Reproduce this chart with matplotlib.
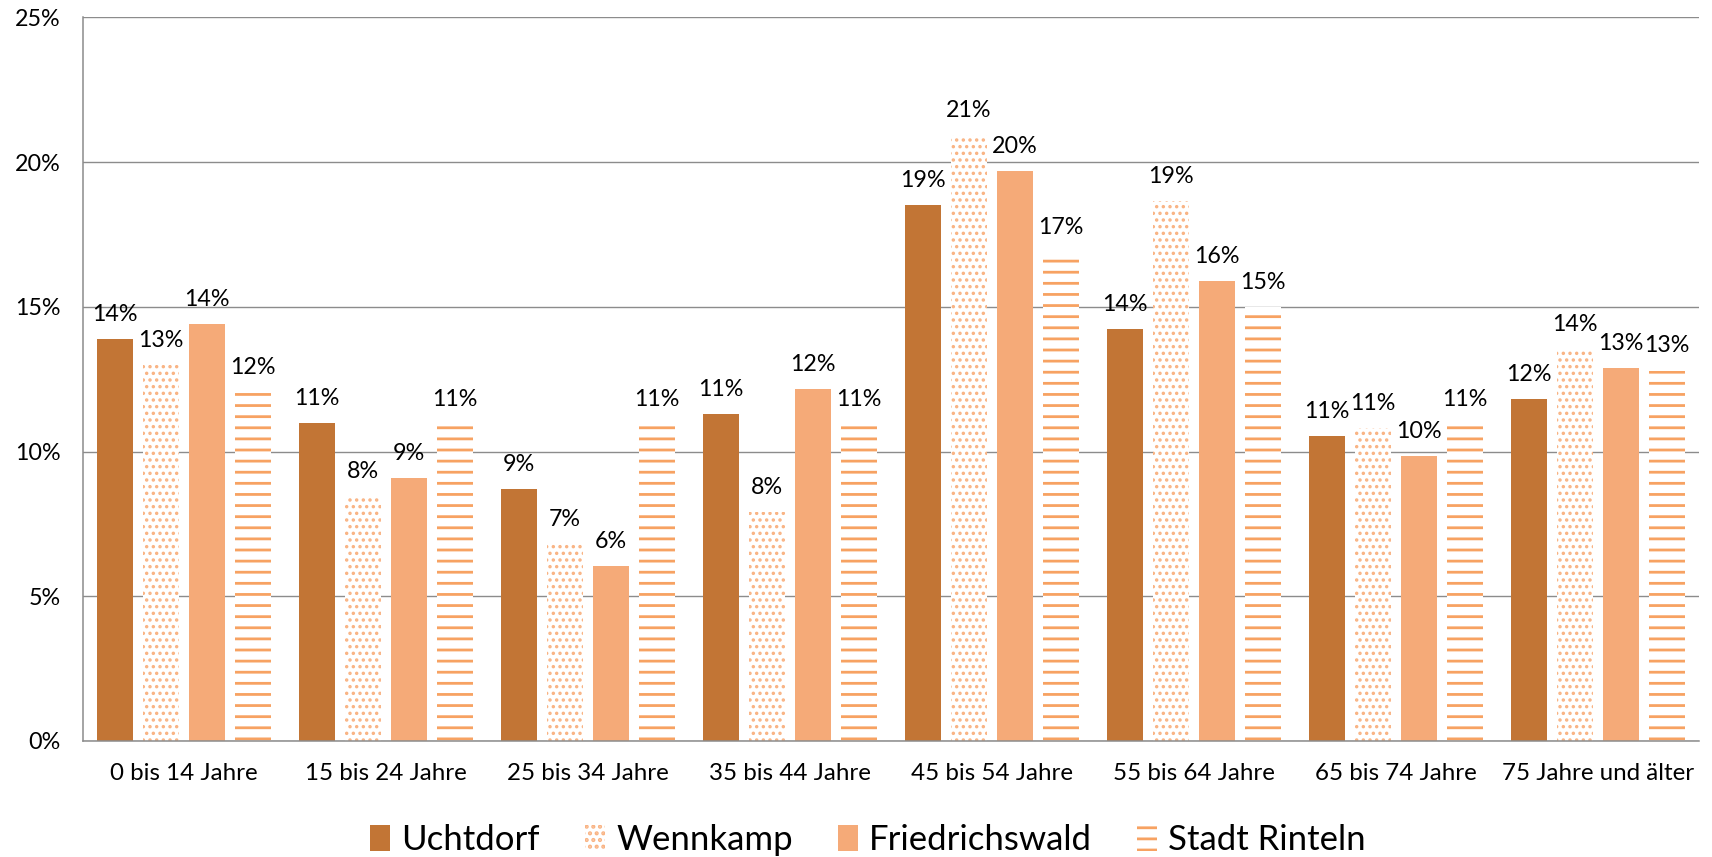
import matplotlib
matplotlib.use("Agg")
import matplotlib.pyplot as plt
import numpy as np
from matplotlib.ticker import FuncFormatter

# ===========================
# DATA (values in %)
# ===========================
categories = ["0 bis 14 Jahre", "15 bis 24 Jahre", "25 bis 34 Jahre", "35 bis 44 Jahre",
              "45 bis 54 Jahre", "55 bis 64 Jahre", "65 bis 74 Jahre", "75 Jahre und älter"]
series_names = ["Uchtdorf", "Wennkamp", "Friedrichswald", "Stadt Rinteln"]
uchtdorf       = [13.9, 11.0, 8.7, 11.3, 18.52, 14.25, 10.55, 11.8]
wennkamp       = [13.0, 8.48, 6.8, 7.9, 20.95, 18.65, 10.8, 13.55]
friedrichswald = [14.4, 9.1, 6.05, 12.15, 19.7, 15.9, 9.85, 12.9]
stadt_rinteln  = [12.05, 10.95, 10.95, 10.95, 16.9, 15.0, 10.95, 12.8]
yticks = [0, 5, 10, 15, 20, 25]

# ===========================
# STYLE
# ===========================
plt.rcParams['font.family'] = ['Lato', 'DejaVu Sans']
DARK = "#C27535"
LIGHT = "#F5AA78"
HATCH = "#F7A262"
GRID = "#8C8C8C"

series = [uchtdorf, wennkamp, friedrichswald, stadt_rinteln]
styles = [
    dict(color=DARK, hatch=None),
    dict(facecolor="white", edgecolor="#F9B383", hatch=".....", linewidth=0),
    dict(color=LIGHT, hatch=None),
    dict(facecolor="white", edgecolor=HATCH, hatch="---", linewidth=0),
]
hatch_lw = [1.0, 0.75, 1.0, 1.0]

fig = plt.figure(figsize=(8.56, 4.285), dpi=200)
ax = fig.add_axes([0.0485, 0.1354, 0.9439, 0.8442])

x = np.arange(len(categories))
step = 0.227
width = 0.178
for k, (vals, st) in enumerate(zip(series, styles)):
    with plt.rc_context({'hatch.linewidth': hatch_lw[k]}):
        bars = ax.bar(x + (k - 1.5) * step, vals, width, label=series_names[k], zorder=2, **st)
    for b, v in zip(bars, vals):
        if hasattr(b, "set_hatch_linewidth"):
            b.set_hatch_linewidth(hatch_lw[k])
        ax.annotate(f"{v:.0f}%", (b.get_x() + b.get_width() / 2, v),
                    xytext=(0, 6.5), textcoords="offset points",
                    ha="center", va="baseline", fontsize=8.4, color="black", zorder=3)

ax.set_xlim(-0.5, len(categories) - 0.5)
ax.set_ylim(0, 25)
ax.set_yticks(yticks)
ax.yaxis.set_major_formatter(FuncFormatter(lambda v, p: f"{v:.0f}%"))
ax.set_xticks(x)
ax.set_xticklabels(categories)
ax.tick_params(axis="y", length=0, pad=8, labelsize=8.4)
ax.tick_params(axis="x", length=0, pad=8, labelsize=8.7)

ax.grid(axis="y", color=GRID, linewidth=0.5, zorder=0)
ax.set_axisbelow(True)
for s in ["top", "right"]:
    ax.spines[s].set_visible(False)
for s in ["left", "bottom"]:
    ax.spines[s].set_color(GRID)
    ax.spines[s].set_linewidth(0.55)

fig.legend(loc="center", bbox_to_anchor=(0.507, 0.02), ncol=4, frameon=False,
           fontsize=12.5, handlelength=0.58, handleheight=0.76,
           handletextpad=0.32, columnspacing=1.3)

fig.savefig("out.png", dpi=200)
